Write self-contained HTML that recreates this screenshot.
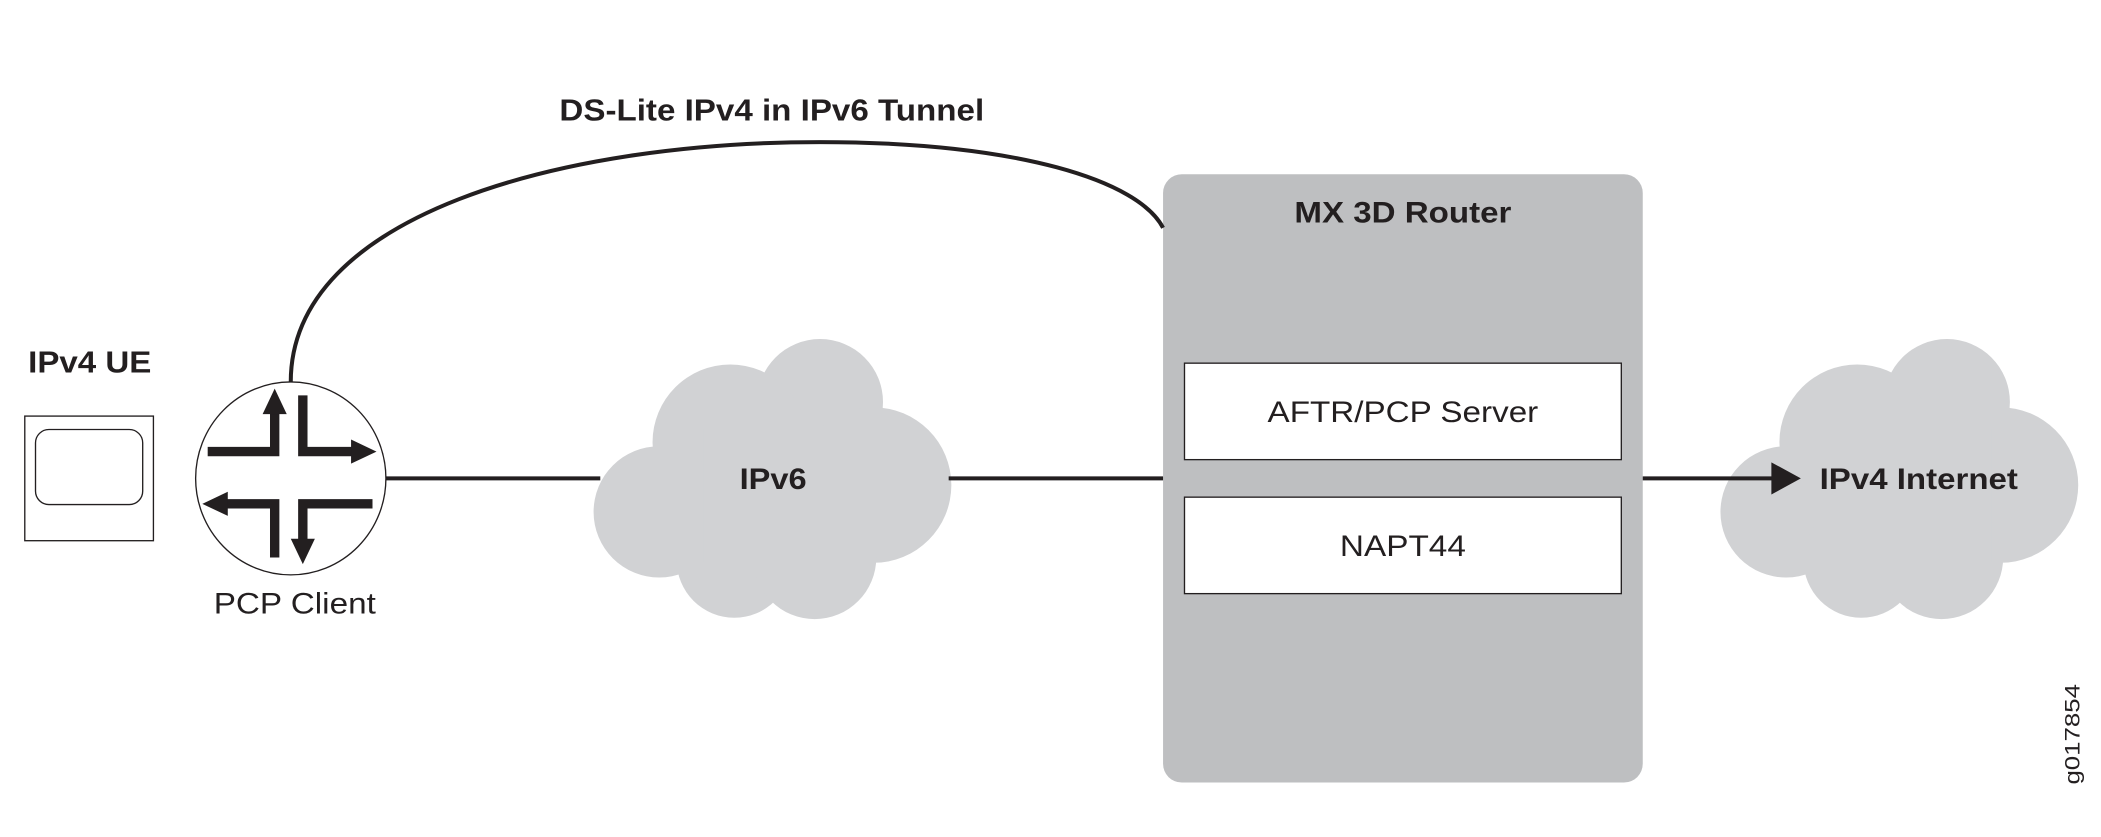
<!DOCTYPE html>
<html><head><style>html,body{margin:0;padding:0;background:#fff}svg{display:block}</style></head>
<body>
<svg width="2101" height="837" viewBox="0 0 1568 624.6" xmlns="http://www.w3.org/2000/svg" font-family="Liberation Sans, sans-serif">
<defs>
<g id="cloud" fill="#d1d2d4">
<circle cx="612" cy="300" r="47"/>
<circle cx="545" cy="330" r="58"/>
<circle cx="492" cy="382" r="49"/>
<circle cx="652" cy="362" r="58"/>
<circle cx="548" cy="418" r="43"/>
<circle cx="608" cy="416" r="46"/>
<rect x="525" y="320" width="120" height="100"/>
</g>
</defs>
<rect x="868" y="130" width="358" height="454" rx="14" fill="#bebfc1"/>
<rect x="884" y="271" width="326" height="72" fill="#fff" stroke="#231f20" stroke-width="1"/>
<rect x="884" y="371" width="326" height="72" fill="#fff" stroke="#231f20" stroke-width="1"/>
<use href="#cloud"/>
<use href="#cloud" transform="translate(841,0)"/>
<path d="M217,285 C217,160 420,106 612,106 C760,106 850,135 868,170" fill="none" stroke="#231f20" stroke-width="3"/>
<line x1="288" y1="357" x2="448" y2="357" stroke="#231f20" stroke-width="3"/>
<line x1="708" y1="357" x2="868" y2="357" stroke="#231f20" stroke-width="3"/>
<line x1="1226" y1="357" x2="1325" y2="357" stroke="#231f20" stroke-width="3"/>
<polygon points="1322,345 1344,357 1322,369" fill="#231f20"/>
<rect x="18.5" y="310.5" width="96" height="93" fill="#fff" stroke="#231f20" stroke-width="1"/>
<rect x="26.5" y="320.5" width="80" height="56" rx="10" fill="#fff" stroke="#231f20" stroke-width="1"/>
<ellipse cx="217" cy="357" rx="71" ry="72" fill="#fff" stroke="#231f20" stroke-width="1"/>
<g fill="none" stroke="#231f20" stroke-width="7">
<path d="M155,337 H205 V305"/>
<path d="M226,295 V337 H266"/>
<path d="M278,376 H226 V405"/>
<path d="M205,416 V376 H168"/>
</g>
<g fill="#231f20">
<polygon points="205,290 196,309 214,309"/>
<polygon points="281,337 262,328 262,346"/>
<polygon points="226,421 217,402 235,402"/>
<polygon points="151,376 170,367 170,385"/>
</g>
<g fill="#231f20" text-anchor="middle">
<text x="576" y="90" font-size="23" font-weight="bold" textLength="317" lengthAdjust="spacingAndGlyphs">DS-Lite IPv4 in IPv6 Tunnel</text>
<text x="67" y="278" font-size="23" font-weight="bold" textLength="92" lengthAdjust="spacingAndGlyphs">IPv4 UE</text>
<text x="220" y="458" font-size="22" textLength="121" lengthAdjust="spacingAndGlyphs">PCP Client</text>
<text x="577" y="365" font-size="22" font-weight="bold" textLength="50" lengthAdjust="spacingAndGlyphs">IPv6</text>
<text x="1047" y="166" font-size="22" font-weight="bold" textLength="162" lengthAdjust="spacingAndGlyphs">MX 3D Router</text>
<text x="1047" y="315" font-size="22" textLength="202" lengthAdjust="spacingAndGlyphs">AFTR/PCP Server</text>
<text x="1047" y="415" font-size="22" textLength="94" lengthAdjust="spacingAndGlyphs">NAPT44</text>
<text x="1432" y="365" font-size="22" font-weight="bold" textLength="148" lengthAdjust="spacingAndGlyphs">IPv4 Internet</text>
<text x="0" y="0" font-size="16" transform="translate(1552,548) rotate(-90)" textLength="75" lengthAdjust="spacingAndGlyphs">g017854</text>
</g>
</svg>
</body></html>
